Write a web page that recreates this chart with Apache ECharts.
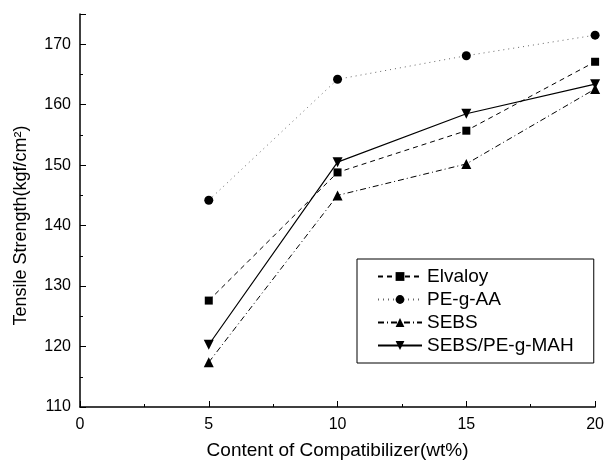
<!DOCTYPE html>
<html>
<head>
<meta charset="utf-8">
<script src="https://cdn.jsdelivr.net/npm/echarts@6/dist/echarts.min.js"></script>
<style>
  html, body { margin: 0; padding: 0; background: #fff; }
  #chart { width: 607px; height: 465px; }
</style>
</head>
<body>
<div id="chart"></div>
<script>
  // compatibilizer content (wt%)
  var contents = [5, 10, 15, 20];
  var elvaloy = [127.6, 148.8, 155.7, 167.1];
  var peGAA = [144.2, 164.2, 168.1, 171.5];
  var sebs = [117.4, 145.0, 150.2, 162.6];
  var sebsPeGMah = [120.3, 150.5, 158.5, 163.4];

  function pairs(vals) {
    return contents.map(function (x, i) { return [x, vals[i]]; });
  }

  var chart = echarts.init(document.getElementById('chart'));
  var font = 'Liberation Sans, Arial, sans-serif';
  var downTri = 'path://M0,0L10,0L5,10Z';

  chart.setOption({
    animation: false,
    backgroundColor: '#fff',
    grid: { left: 80, right: 10, top: 14, bottom: 56 },
    xAxis: {
      type: 'value',
      min: 0, max: 20, interval: 5,
      name: 'Content of Compatibilizer(wt%)',
      nameLocation: 'middle',
      nameGap: 34,
      nameTextStyle: { fontFamily: font, fontSize: 19, color: '#000' },
      axisLine: { lineStyle: { color: '#000', width: 1.5 } },
      axisTick: { inside: true, length: 6, lineStyle: { color: '#000' } },
      minorTick: { show: true, splitNumber: 2, length: 3, lineStyle: { color: '#000' } },
      axisLabel: { fontFamily: font, fontSize: 16, color: '#000', margin: 10 },
      splitLine: { show: false }
    },
    yAxis: {
      type: 'value',
      min: 110, max: 175, interval: 10,
      name: 'Tensile Strength(kgf/cm²)',
      nameLocation: 'middle',
      nameGap: 50,
      nameTextStyle: { fontFamily: font, fontSize: 18, color: '#000', padding: [0, 30, 0, 0] },
      axisLine: { show: true, lineStyle: { color: '#000', width: 1.5 } },
      axisTick: { show: true, inside: true, length: 6, lineStyle: { color: '#000' } },
      minorTick: { show: true, splitNumber: 2, length: 3, lineStyle: { color: '#000' } },
      axisLabel: {
        fontFamily: font, fontSize: 16, color: '#000', margin: 9,
        formatter: function (v) { return v % 10 === 0 ? v : ''; }
      },
      splitLine: { show: false }
    },
    legend: {
      left: 357, top: 259,
      orient: 'vertical',
      padding: [8, 20, 8, 20],
      itemGap: 4,
      itemWidth: 44,
      itemHeight: 11,
      borderColor: '#000',
      borderWidth: 1,
      textStyle: { fontFamily: font, fontSize: 19, color: '#000' },
      data: ['Elvaloy', 'PE-g-AA', 'SEBS', 'SEBS/PE-g-MAH']
    },
    series: [
      {
        name: 'Elvaloy', type: 'line', data: pairs(elvaloy),
        symbol: 'rect', symbolSize: 8,
        itemStyle: { color: '#000' },
        lineStyle: { color: '#000', width: 1, type: [5, 4] }
      },
      {
        name: 'PE-g-AA', type: 'line', data: pairs(peGAA),
        symbol: 'circle', symbolSize: 9,
        itemStyle: { color: '#000' },
        lineStyle: { color: '#666', width: 1, type: [1, 4] }
      },
      {
        name: 'SEBS', type: 'line', data: pairs(sebs),
        symbol: 'triangle', symbolSize: 10,
        itemStyle: { color: '#000' },
        lineStyle: { color: '#000', width: 1, type: [6, 3, 1, 3] }
      },
      {
        name: 'SEBS/PE-g-MAH', type: 'line', data: pairs(sebsPeGMah),
        symbol: downTri, symbolSize: 10,
        itemStyle: { color: '#000' },
        lineStyle: { color: '#000', width: 1.2, type: 'solid' }
      }
    ]
  });
</script>
</body>
</html>
